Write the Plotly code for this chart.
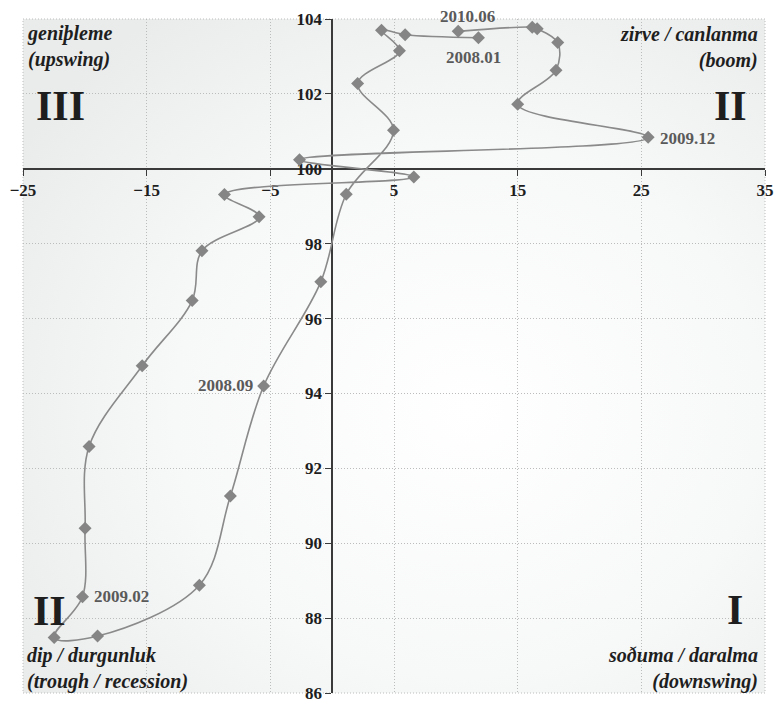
import base64
import plotly.graph_objects as go

months = ["2008.01", "2008.02", "2008.03", "2008.04", "2008.05", "2008.06",
          "2008.07", "2008.08", "2008.09", "2008.10", "2008.11", "2008.12",
          "2009.01", "2009.02", "2009.03", "2009.04", "2009.05", "2009.06",
          "2009.07", "2009.08", "2009.09", "2009.10", "2009.11", "2009.12",
          "2010.01", "2010.02", "2010.03", "2010.04", "2010.05", "2010.06"]
x_change = [11.83, 5.90, 3.99, 5.44, 2.06, 4.96,
            1.14, -0.92, -5.54, -8.23, -10.74, -18.97,
            -22.48, -20.19, -19.98, -19.66, -15.36, -11.32,
            -10.53, -5.91, -8.71, 6.60, -2.64, 25.55,
            15.00, 18.10, 18.24, 16.58, 16.18, 10.19]
y_level = [103.50, 103.58, 103.70, 103.15, 102.28, 101.03,
           99.32, 96.98, 94.20, 91.26, 88.88, 87.52,
           87.48, 88.57, 90.40, 92.58, 94.74, 96.48,
           97.81, 98.72, 99.31, 99.78, 100.24, 100.84,
           101.72, 102.63, 103.37, 103.74, 103.78, 103.67]

labelled = ["2008.01", "2008.09", "2009.02", "2009.12", "2010.06"]

x_range = [-25, 35]
y_range = [86, 104]
x_ticks = [-25, -15, -5, 5, 15, 25, 35]
y_ticks = [86, 88, 90, 92, 94, 96, 98, 100, 102, 104]

SERIF = "Liberation Serif, Times New Roman, serif"
LINE = "#8a8a8a"

fig = go.Figure()
fig.add_trace(go.Scatter(
    x=x_change, y=y_level, mode="lines+markers",
    line=dict(color=LINE, width=1.6, shape="spline", smoothing=1.0),
    marker=dict(symbol="diamond", size=10, color="#858585"),
    hoverinfo="skip", showlegend=False,
))

# label placement (style only): anchor and pixel offsets
label_style = {
    "2008.01": dict(xanchor="center", yanchor="middle", xshift=-5, yshift=-20),
    "2008.09": dict(xanchor="right", yanchor="middle", xshift=-9, yshift=0),
    "2009.02": dict(xanchor="left", yanchor="middle", xshift=10, yshift=0),
    "2009.12": dict(xanchor="left", yanchor="middle", xshift=10, yshift=-1),
    "2010.06": dict(xanchor="center", yanchor="middle", xshift=9, yshift=15),
}
for m, xv, yv in zip(months, x_change, y_level):
    if m in labelled:
        fig.add_annotation(x=xv, y=yv, xref="x", yref="y", text="<b>%s</b>" % m,
                           showarrow=False,
                           font=dict(family=SERIF, size=17, color="#5a5a5a"),
                           **label_style[m])

svg = ('<svg xmlns="http://www.w3.org/2000/svg" width="200" height="200" '
       'preserveAspectRatio="none"><defs><radialGradient id="g" cx="0.6" cy="0.58" r="0.72">'
       '<stop offset="0" stop-color="#ffffff"/><stop offset="0.55" stop-color="#f7f8f8"/>'
       '<stop offset="1" stop-color="#eaecec"/></radialGradient></defs>'
       '<rect width="200" height="200" fill="url(#g)"/></svg>')
src = "data:image/svg+xml;base64," + base64.b64encode(svg.encode()).decode()

ax_common = dict(showgrid=True, gridcolor="#bcbcbc", griddash="1px,2px", gridwidth=1,
                 zeroline=False, showline=True, linecolor="#3a3a3a", linewidth=1.6,
                 ticks="outside", ticklen=6, tickcolor="#3a3a3a", tickwidth=1.4,
                 tickfont=dict(family=SERIF, size=17, color="#1e1e1e", weight="bold"),
                 anchor="free", layer="below traces")

fig.update_xaxes(range=x_range, tickvals=x_ticks, position=(100 - y_range[0]) / (y_range[1] - y_range[0]),
                 **ax_common)
fig.update_yaxes(range=y_range, tickvals=y_ticks, position=(0 - x_range[0]) / (x_range[1] - x_range[0]),
                 **ax_common)

TOP, BOTTOM = 12, 703
W, H = 757, BOTTOM - TOP  # plot area px
def px(xp): return (xp - 17) / W
def py(yp): return 1 - (yp - TOP) / H

def note(x, y, t, size, xanchor):
    fig.add_annotation(xref="paper", yref="paper", x=px(x), y=py(y), text=t, showarrow=False,
                       xanchor=xanchor, yanchor="middle", align=xanchor if xanchor != "center" else "center",
                       font=dict(family=SERIF, size=size, color="#1e1e1e"))

note(19, 40, "<b><i>geniþleme<br>(upswing)</i></b>", 20, "left")
note(55, 101, "<b>III</b>", 42, "center")
note(769, 41, "<b><i>zirve / canlanma<br>(boom)</i></b>", 20, "right")
note(739, 101, "<b>II</b>", 42, "center")
note(44, 619, "<b>II</b>", 42, "center")
note(19, 678, "<b><i>dip / durgunluk<br>(trough / recession)</i></b>", 20, "left")
note(743, 618, "<b>I</b>", 42, "center")
note(769, 678, "<b><i>soðuma / daralma<br>(downswing)</i></b>", 20, "right")

fig.add_shape(type="rect", xref="paper", yref="paper", x0=0, y0=0, x1=1, y1=1,
              line=dict(color="#bcbcbc", width=1, dash="1px,2px"), layer="below")

fig.update_layout(
    width=784, height=713, autosize=False,
    margin=dict(l=17, r=10, t=TOP, b=713 - BOTTOM),
    paper_bgcolor="white", plot_bgcolor="rgba(0,0,0,0)",
    images=[dict(source=src, xref="paper", yref="paper", x=0, y=1, sizex=1, sizey=1,
                 sizing="stretch", layer="below", xanchor="left", yanchor="top")],
    showlegend=False,
)

fig.write_html(
    "out.html",
    config={"displayModeBar": False, "responsive": False},
    post_script="document.body.style.margin='0';",
)
